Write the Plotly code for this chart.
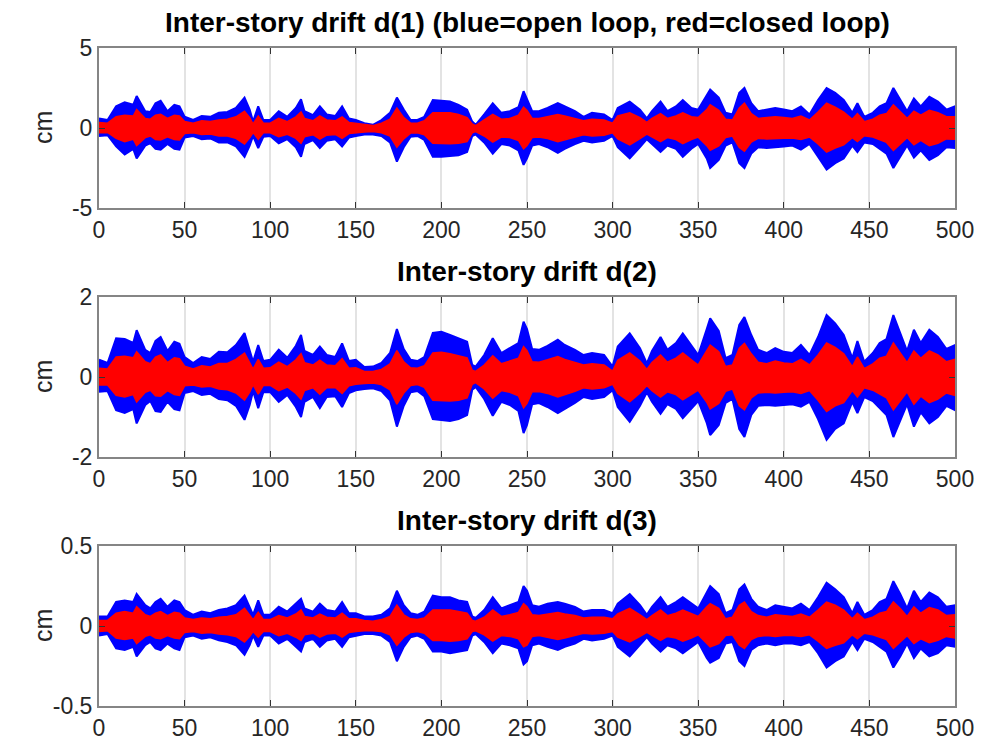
import plotly.graph_objects as go

# time knots (s) at which the envelopes were read
t = [0,5,10,15,20,22,27,30,33,36,40,44,47,50,55,60,65,70,75,80,85,88,90,93,96,100,105,110,115,118,120,125,129,133,138,142,146,150,155,160,165,170,174,178,182,186,190,195,200,205,210,215,218,220,225,230,235,240,245,248,250,253,257,262,268,272,278,283,288,295,300,303,310,316,320,323,328,332,337,341,346,350,355,357,362,366,370,374,377,381,385,390,395,400,405,410,415,420,425,430,435,440,443,447,452,456,460,464,468,472,476,480,485,490,495,500]

# d(1): open loop (blue) upper/lower envelope, closed loop (red) upper/lower envelope
d1_open_up = [0.6,0.5,1.35,1.6,1.45,2.0,1.05,1.0,1.55,1.7,1.05,1.45,1.35,0.7,0.5,0.75,0.7,0.95,1.0,1.25,1.9,1.15,0.4,1.35,0.5,0.5,1.05,0.7,1.25,1.8,1.05,0.8,1.35,0.85,0.75,1.35,0.6,0.5,0.3,0.2,0.5,0.95,1.9,1.15,0.5,0.5,0.7,1.75,1.7,1.65,1.45,1.15,0.4,0.2,0.85,1.55,0.95,1.05,1.3,2.3,1.8,1.05,1.05,1.25,1.55,1.35,1.05,0.7,0.95,0.85,0.5,1.25,1.65,1.15,0.6,1.05,1.65,1.05,1.35,1.75,1.25,1.15,2.0,2.4,1.9,0.95,0.85,2.2,2.5,1.55,1.05,1.15,1.25,1.15,1.05,1.35,0.85,1.75,2.5,2.2,1.75,0.95,1.55,0.7,0.95,1.35,1.55,2.5,1.75,1.05,1.85,1.35,1.95,1.65,1.15,1.35]
d1_open_lo = [-0.5,-0.45,-1.15,-1.65,-1.3,-1.9,-1.1,-0.95,-1.3,-1.35,-1.0,-1.3,-1.35,-0.6,-0.5,-0.7,-0.65,-0.9,-0.9,-1.15,-1.8,-1.1,-0.5,-1.25,-0.55,-0.5,-0.95,-0.7,-1.2,-1.8,-1.0,-0.75,-1.25,-0.8,-0.7,-1.15,-0.6,-0.5,-0.4,-0.4,-0.5,-0.9,-2.1,-1.2,-0.55,-0.5,-0.75,-1.8,-1.8,-1.75,-1.7,-1.5,-0.5,-0.4,-0.9,-1.6,-1.0,-1.1,-1.4,-2.3,-1.9,-1.1,-1.0,-1.2,-1.55,-1.3,-1.0,-0.8,-0.9,-0.8,-0.5,-1.2,-1.9,-1.2,-0.7,-1.0,-1.5,-1.1,-1.3,-1.8,-1.3,-1.0,-1.9,-2.5,-2.0,-1.1,-0.9,-2.2,-2.5,-1.6,-1.2,-1.25,-1.2,-1.15,-1.1,-1.35,-1.0,-1.8,-2.6,-2.2,-1.9,-1.1,-1.5,-0.9,-1.0,-1.3,-1.6,-2.5,-1.8,-1.1,-1.85,-1.4,-2.0,-1.7,-1.2,-1.25]
d1_closed_up = [0.35,0.3,0.7,0.8,0.75,1.15,0.6,0.55,0.8,0.85,0.6,0.8,0.75,0.4,0.3,0.45,0.4,0.5,0.55,0.7,1.05,0.65,0.25,0.75,0.3,0.3,0.6,0.4,0.7,1.0,0.6,0.45,0.75,0.5,0.45,0.7,0.35,0.3,0.2,0.15,0.3,0.55,1.25,0.65,0.3,0.3,0.45,0.95,0.95,0.95,0.85,0.65,0.25,0.15,0.5,0.85,0.55,0.6,0.8,1.3,1.1,0.6,0.6,0.7,0.85,0.75,0.6,0.45,0.55,0.5,0.3,0.75,0.95,0.65,0.35,0.6,0.9,0.6,0.75,0.95,0.7,0.65,1.15,1.45,1.1,0.55,0.5,1.25,1.55,0.9,0.6,0.65,0.7,0.65,0.6,0.75,0.5,1.0,1.55,1.3,1.0,0.55,0.9,0.4,0.55,0.8,0.9,1.45,1.0,0.6,1.05,0.8,1.1,0.95,0.7,0.7]
d1_closed_lo = [-0.3,-0.28,-0.65,-0.85,-0.7,-1.1,-0.6,-0.5,-0.72,-0.75,-0.55,-0.72,-0.75,-0.35,-0.3,-0.4,-0.38,-0.5,-0.5,-0.65,-1.0,-0.62,-0.28,-0.7,-0.3,-0.3,-0.55,-0.4,-0.65,-0.95,-0.55,-0.42,-0.7,-0.45,-0.4,-0.65,-0.35,-0.3,-0.25,-0.22,-0.3,-0.5,-1.2,-0.68,-0.32,-0.3,-0.42,-0.95,-0.98,-0.98,-0.95,-0.85,-0.3,-0.22,-0.5,-0.88,-0.57,-0.6,-0.78,-1.3,-1.1,-0.6,-0.56,-0.66,-0.85,-0.72,-0.56,-0.42,-0.5,-0.45,-0.3,-0.68,-1.05,-0.66,-0.38,-0.57,-0.85,-0.6,-0.72,-0.98,-0.72,-0.57,-1.1,-1.4,-1.12,-0.6,-0.5,-1.22,-1.45,-0.88,-0.65,-0.68,-0.66,-0.64,-0.62,-0.72,-0.56,-1.0,-1.5,-1.25,-1.05,-0.6,-0.85,-0.48,-0.56,-0.72,-0.9,-1.4,-1.0,-0.6,-1.05,-0.78,-1.1,-0.95,-0.68,-0.7]

# d(2)
d2_open_up = [0.43,0.35,0.97,0.95,0.85,1.17,0.68,0.6,0.9,1.0,0.65,0.88,0.83,0.5,0.35,0.5,0.45,0.63,0.62,0.8,1.1,0.7,0.38,0.8,0.4,0.43,0.68,0.48,0.78,1.05,0.65,0.55,0.76,0.55,0.5,0.84,0.4,0.43,0.25,0.26,0.35,0.6,1.2,0.7,0.43,0.4,0.5,1.1,1.13,1.05,0.97,0.88,0.3,0.26,0.55,0.97,0.6,0.72,0.85,1.38,1.2,0.7,0.68,0.78,0.93,0.8,0.68,0.55,0.6,0.55,0.26,0.76,1.09,0.72,0.34,0.65,1.0,0.68,0.85,1.09,0.78,0.55,1.2,1.47,1.15,0.47,0.55,1.3,1.5,1.05,0.68,0.6,0.72,0.63,0.6,0.8,0.55,1.0,1.55,1.34,1.05,0.47,0.9,0.38,0.6,0.85,0.95,1.55,1.1,0.65,1.18,0.85,1.18,1.0,0.7,0.8]
d2_open_lo = [-0.37,-0.35,-0.83,-0.9,-0.8,-1.16,-0.7,-0.6,-0.85,-0.87,-0.62,-0.8,-0.83,-0.4,-0.35,-0.45,-0.42,-0.55,-0.58,-0.72,-1.07,-0.7,-0.35,-0.78,-0.38,-0.38,-0.62,-0.45,-0.75,-1.0,-0.62,-0.5,-0.78,-0.5,-0.48,-0.75,-0.4,-0.33,-0.3,-0.28,-0.35,-0.58,-1.24,-0.72,-0.38,-0.35,-0.48,-1.05,-1.07,-1.1,-1.05,-0.95,-0.32,-0.25,-0.55,-0.97,-0.62,-0.7,-0.85,-1.4,-1.2,-0.68,-0.65,-0.75,-0.9,-0.8,-0.65,-0.5,-0.55,-0.5,-0.33,-0.75,-1.12,-0.72,-0.38,-0.62,-0.92,-0.68,-0.8,-1.03,-0.8,-0.6,-1.15,-1.45,-1.2,-0.65,-0.55,-1.3,-1.5,-0.95,-0.72,-0.7,-0.72,-0.7,-0.68,-0.74,-0.62,-1.05,-1.57,-1.3,-1.16,-0.62,-0.9,-0.5,-0.6,-0.78,-0.95,-1.5,-1.1,-0.68,-1.24,-0.88,-1.16,-1.0,-0.72,-0.83]
d2_closed_up = [0.22,0.2,0.5,0.52,0.48,0.63,0.38,0.33,0.5,0.55,0.36,0.48,0.46,0.27,0.2,0.28,0.25,0.34,0.34,0.44,0.6,0.38,0.2,0.44,0.22,0.23,0.37,0.26,0.43,0.58,0.36,0.3,0.42,0.3,0.28,0.46,0.22,0.23,0.14,0.14,0.19,0.33,0.66,0.38,0.23,0.22,0.28,0.6,0.62,0.58,0.53,0.48,0.17,0.14,0.3,0.53,0.33,0.4,0.47,0.76,0.66,0.38,0.37,0.43,0.51,0.44,0.37,0.3,0.33,0.3,0.15,0.42,0.6,0.4,0.19,0.36,0.55,0.37,0.47,0.6,0.43,0.3,0.66,0.8,0.63,0.26,0.3,0.72,0.84,0.58,0.37,0.33,0.4,0.35,0.33,0.44,0.3,0.55,0.85,0.74,0.58,0.26,0.5,0.21,0.33,0.47,0.52,0.85,0.6,0.36,0.65,0.47,0.65,0.55,0.38,0.44]
d2_closed_lo = [-0.2,-0.2,-0.46,-0.5,-0.44,-0.62,-0.38,-0.33,-0.47,-0.48,-0.34,-0.44,-0.46,-0.22,-0.2,-0.25,-0.23,-0.3,-0.32,-0.4,-0.58,-0.38,-0.19,-0.43,-0.21,-0.21,-0.34,-0.25,-0.41,-0.55,-0.34,-0.27,-0.43,-0.27,-0.26,-0.41,-0.22,-0.18,-0.16,-0.15,-0.19,-0.32,-0.68,-0.4,-0.21,-0.19,-0.26,-0.58,-0.59,-0.6,-0.58,-0.52,-0.18,-0.14,-0.3,-0.53,-0.34,-0.38,-0.47,-0.77,-0.66,-0.37,-0.36,-0.41,-0.5,-0.44,-0.36,-0.27,-0.3,-0.27,-0.18,-0.41,-0.62,-0.4,-0.21,-0.34,-0.5,-0.37,-0.44,-0.57,-0.44,-0.33,-0.63,-0.8,-0.66,-0.36,-0.3,-0.72,-0.82,-0.52,-0.4,-0.38,-0.4,-0.38,-0.37,-0.41,-0.34,-0.58,-0.86,-0.72,-0.64,-0.34,-0.5,-0.27,-0.33,-0.43,-0.52,-0.82,-0.6,-0.37,-0.68,-0.48,-0.64,-0.55,-0.4,-0.46]

# d(3)
d3_open_up = [0.06,0.06,0.15,0.16,0.15,0.2,0.13,0.11,0.15,0.17,0.12,0.16,0.15,0.1,0.07,0.09,0.08,0.1,0.11,0.13,0.19,0.12,0.07,0.16,0.07,0.07,0.12,0.09,0.14,0.17,0.11,0.09,0.14,0.1,0.09,0.15,0.08,0.08,0.06,0.06,0.07,0.11,0.22,0.13,0.08,0.07,0.09,0.19,0.18,0.18,0.16,0.15,0.06,0.05,0.1,0.18,0.11,0.13,0.15,0.25,0.22,0.13,0.12,0.14,0.15,0.14,0.12,0.09,0.1,0.1,0.08,0.14,0.2,0.13,0.07,0.12,0.18,0.12,0.15,0.18,0.14,0.11,0.21,0.25,0.2,0.08,0.1,0.23,0.26,0.17,0.12,0.1,0.13,0.12,0.11,0.14,0.1,0.18,0.27,0.23,0.18,0.08,0.15,0.07,0.1,0.15,0.17,0.28,0.2,0.11,0.22,0.15,0.21,0.18,0.12,0.13]
d3_open_lo = [-0.06,-0.05,-0.14,-0.15,-0.13,-0.19,-0.12,-0.1,-0.14,-0.15,-0.11,-0.14,-0.15,-0.07,-0.06,-0.08,-0.07,-0.09,-0.1,-0.12,-0.18,-0.12,-0.06,-0.13,-0.06,-0.06,-0.11,-0.08,-0.13,-0.16,-0.1,-0.08,-0.13,-0.09,-0.08,-0.13,-0.07,-0.06,-0.05,-0.05,-0.06,-0.1,-0.22,-0.13,-0.07,-0.06,-0.08,-0.16,-0.16,-0.17,-0.16,-0.15,-0.06,-0.05,-0.1,-0.17,-0.11,-0.12,-0.14,-0.24,-0.22,-0.12,-0.11,-0.13,-0.15,-0.13,-0.11,-0.08,-0.09,-0.08,-0.06,-0.13,-0.19,-0.12,-0.07,-0.11,-0.16,-0.12,-0.14,-0.17,-0.13,-0.1,-0.2,-0.23,-0.2,-0.11,-0.1,-0.22,-0.25,-0.15,-0.12,-0.11,-0.12,-0.11,-0.11,-0.12,-0.1,-0.17,-0.26,-0.22,-0.19,-0.1,-0.15,-0.08,-0.1,-0.13,-0.16,-0.26,-0.19,-0.11,-0.2,-0.14,-0.19,-0.17,-0.12,-0.13]
d3_closed_up = [0.035,0.035,0.08,0.09,0.08,0.12,0.07,0.06,0.08,0.09,0.065,0.085,0.08,0.05,0.04,0.05,0.045,0.055,0.06,0.07,0.11,0.07,0.04,0.085,0.04,0.04,0.065,0.05,0.075,0.1,0.06,0.05,0.075,0.055,0.05,0.08,0.045,0.045,0.035,0.03,0.04,0.06,0.13,0.07,0.045,0.04,0.05,0.1,0.1,0.1,0.09,0.08,0.035,0.03,0.055,0.1,0.06,0.07,0.085,0.14,0.12,0.07,0.065,0.075,0.085,0.075,0.065,0.05,0.055,0.055,0.045,0.075,0.11,0.07,0.04,0.065,0.1,0.065,0.08,0.1,0.075,0.06,0.12,0.14,0.11,0.045,0.055,0.13,0.15,0.09,0.065,0.055,0.07,0.065,0.06,0.075,0.055,0.1,0.15,0.13,0.1,0.045,0.08,0.04,0.055,0.08,0.09,0.15,0.11,0.06,0.12,0.08,0.115,0.1,0.065,0.07]
d3_closed_lo = [-0.035,-0.03,-0.075,-0.085,-0.075,-0.11,-0.065,-0.055,-0.075,-0.08,-0.06,-0.075,-0.08,-0.04,-0.035,-0.045,-0.04,-0.05,-0.055,-0.065,-0.1,-0.065,-0.035,-0.07,-0.035,-0.035,-0.06,-0.045,-0.07,-0.09,-0.055,-0.045,-0.07,-0.05,-0.045,-0.07,-0.04,-0.035,-0.03,-0.03,-0.035,-0.055,-0.12,-0.07,-0.04,-0.035,-0.045,-0.09,-0.09,-0.095,-0.09,-0.08,-0.035,-0.03,-0.055,-0.095,-0.06,-0.065,-0.08,-0.13,-0.12,-0.065,-0.06,-0.07,-0.085,-0.075,-0.06,-0.045,-0.05,-0.045,-0.035,-0.07,-0.1,-0.065,-0.04,-0.06,-0.09,-0.065,-0.075,-0.095,-0.075,-0.055,-0.11,-0.13,-0.11,-0.06,-0.055,-0.12,-0.14,-0.085,-0.065,-0.06,-0.065,-0.06,-0.06,-0.065,-0.055,-0.095,-0.14,-0.12,-0.105,-0.055,-0.08,-0.045,-0.055,-0.07,-0.085,-0.14,-0.1,-0.06,-0.11,-0.08,-0.105,-0.09,-0.065,-0.075]

titles = ["Inter-story drift d(1) (blue=open loop, red=closed loop)",
          "Inter-story drift d(2)", "Inter-story drift d(3)"]
y_ranges = [[-5, 5], [-2, 2], [-0.5, 0.5]]
y_ticks = [[-5, 0, 5], [-2, 0, 2], [-0.5, 0, 0.5]]
y_ticktext = [["-5", "0", "5"], ["-2", "0", "2"], ["-0.5", "0", "0.5"]]
x_ticks = [0, 50, 100, 150, 200, 250, 300, 350, 400, 450, 500]

series = [
    (d1_open_up, d1_open_lo, d1_closed_up, d1_closed_lo),
    (d2_open_up, d2_open_lo, d2_closed_up, d2_closed_lo),
    (d3_open_up, d3_open_lo, d3_closed_up, d3_closed_lo),
]

# the page body adds an 8px offset; the figure is sized to fit the window
W, H = 976, 735
ml, mr, mt, mb = 91, 29, 40, 37
ph = H - mt - mb
panel_tops = [40, 289, 538]
panel_h = 160

fig = go.Figure()
font = "Liberation Sans, Arial, Helvetica, sans-serif"

for i, (ou, ol, cu, cl) in enumerate(series):
    ax = "" if i == 0 else str(i + 1)
    xs = t + t[::-1]
    fig.add_trace(go.Scatter(x=xs, y=ou + ol[::-1], fill="toself", mode="lines",
                             fillcolor="#0000ff", line=dict(color="#0000ff", width=2),
                             xaxis="x" + ax, yaxis="y" + ax, showlegend=False, hoverinfo="skip"))
    fig.add_trace(go.Scatter(x=xs, y=cu + cl[::-1], fill="toself", mode="lines",
                             fillcolor="#ff0000", line=dict(color="#ff0000", width=1.5),
                             xaxis="x" + ax, yaxis="y" + ax, showlegend=False, hoverinfo="skip"))
    top = panel_tops[i] - mt
    d0 = 1 - (top + panel_h) / ph
    d1 = 1 - top / ph
    common = dict(showline=True, linecolor="#858585", linewidth=2, mirror="ticks",
                  ticks="inside", ticklen=6, tickcolor="#333333", tickwidth=1,
                  zeroline=False, automargin=False,
                  tickfont=dict(family=font, size=23, color="#262626"))
    fig.layout["xaxis" + ax] = dict(domain=[0, 1], range=[0, 500], tickvals=x_ticks,
                                    showgrid=True, gridcolor="#e3e3e3", gridwidth=2,
                                    anchor="y" + ax, **common)
    fig.layout["yaxis" + ax] = dict(domain=[d0, d1], range=y_ranges[i], tickvals=y_ticks[i],
                                    ticktext=y_ticktext[i], showgrid=False, anchor="x" + ax,
                                    **common)
    fig.add_annotation(text="<b>" + titles[i] + "</b>", xref="paper", yref="paper",
                       x=0.5, y=d1, yshift=8, xanchor="center", yanchor="bottom",
                       showarrow=False, font=dict(family=font, size=28, color="#000000"))
    fig.add_annotation(text="cm", xref="paper", yref="paper", x=0, y=(d0 + d1) / 2,
                       xshift=-56, textangle=-90, xanchor="center", yanchor="middle",
                       showarrow=False, font=dict(family=font, size=25, color="#262626"))

fig.update_layout(width=W, height=H, margin=dict(l=ml, r=mr, t=mt, b=mb),
                  plot_bgcolor="white", paper_bgcolor="white")
fig.write_html("out.html")
